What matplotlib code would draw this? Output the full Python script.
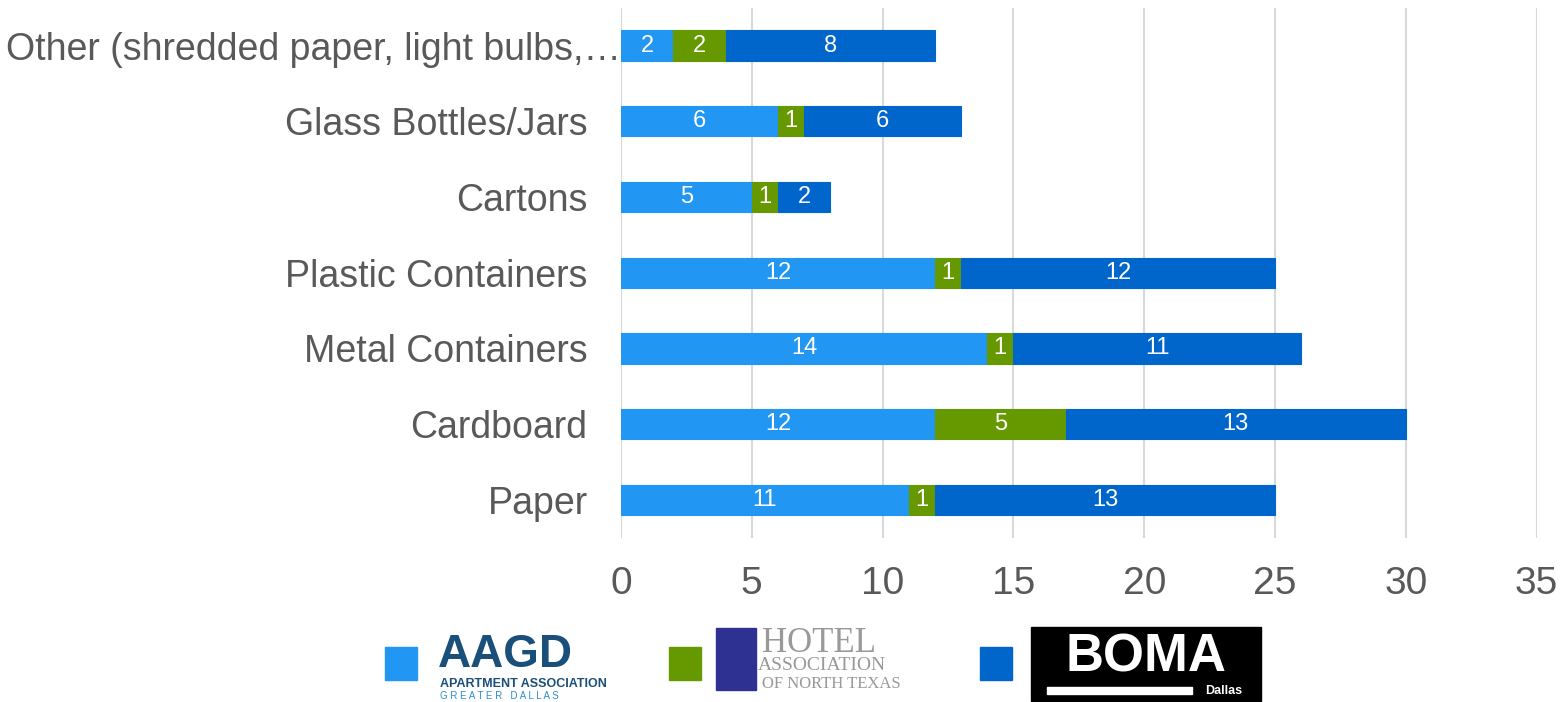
import numpy as np
import matplotlib.pyplot as plt
from matplotlib.patches import Rectangle
from matplotlib.transforms import ScaledTranslation

plt.rcParams['font.family'] = ['Liberation Sans', 'DejaVu Sans']

categories = ['Paper', 'Cardboard', 'Metal Containers', 'Plastic Containers',
              'Cartons', 'Glass Bottles/Jars', 'Other (shredded paper, light bulbs,\u2026']
aagd = [11, 12, 14, 12, 5, 6, 2]
hotel = [1, 5, 1, 1, 1, 1, 2]
boma = [13, 13, 11, 12, 2, 6, 8]
xticks = [0, 5, 10, 15, 20, 25, 30, 35]

colors = ['#2196F3', '#669900', '#0066CC']
grey = '#595959'

fig = plt.figure(figsize=(15.68, 7.02), dpi=100)
ax = fig.add_axes([0.396, 0.234, 0.584, 0.755])

y = np.arange(len(categories))
left = np.zeros(len(categories))
for vals, c in zip([aagd, hotel, boma], colors):
    bars = ax.barh(y, vals, left=left, height=0.4, color=c, edgecolor=c, linewidth=0.8, zorder=3)
    ax.bar_label(bars, labels=[str(v) for v in vals], label_type='center',
                 color='white', fontsize=17)
    left += np.array(vals)

ax.set_xlim(0, 35)
ax.set_ylim(-0.5, 6.5)
ax.set_xticks(xticks)
ax.set_yticks(y)
ax.set_yticklabels(categories)
ax.tick_params(axis='x', length=0, colors=grey, labelsize=28, pad=20)
ax.tick_params(axis='y', length=0, colors=grey, labelsize=27, pad=24)
ax.grid(axis='x', color='#d9d9d9', linewidth=1.5, zorder=0)
for s in ax.spines.values():
    s.set_visible(False)

# the long label runs right up to the axis, like the truncated one in the original
lab = ax.get_yticklabels()[-1]
lab.set_transform(lab.get_transform() + ScaledTranslation(0.33, 0, fig.dpi_scale_trans))

# legend squares and logo text
W, H = 1568, 702
def fx(px):
    return px / W
def fy(py):
    return 1 - py / H

for x0, c in zip([385, 669, 980], colors):
    fig.patches.append(Rectangle((fx(x0), fy(680)), 32 / W, 33 / H,
                                 transform=fig.transFigure, color=c))

fig.text(fx(438), fy(655), 'AAGD', fontsize=33, fontweight='bold', color='#1a4f7a',
         va='center', ha='left')
fig.text(fx(440), fy(684), 'APARTMENT ASSOCIATION', fontsize=9, fontweight='bold',
         color='#1a4f7a', va='center', ha='left')
fig.text(fx(440), fy(696), 'G R E A T E R   D A L L A S', fontsize=7,
         color='#2a8fd0', va='center', ha='left')

fig.patches.append(Rectangle((fx(716), fy(690)), 40 / W, 62 / H,
                             transform=fig.transFigure, color='#2e3192'))
fig.text(fx(762), fy(643), 'HOTEL', fontsize=25, family='Liberation Serif',
         color='#999999', va='center', ha='left')
fig.text(fx(758), fy(666), 'ASSOCIATION', fontsize=14, family='Liberation Serif',
         color='#999999', va='center', ha='left')
fig.text(fx(762), fy(684), 'OF NORTH TEXAS', fontsize=12, family='Liberation Serif',
         color='#999999', va='center', ha='left')

fig.patches.append(Rectangle((fx(1031), fy(701)), 230 / W, 74 / H,
                             transform=fig.transFigure, color='black'))
fig.text(fx(1146), fy(657), 'BOMA', fontsize=38, fontweight='bold', color='white',
         va='center', ha='center')
fig.patches.append(Rectangle((fx(1047), fy(694)), 145 / W, 7 / H,
                             transform=fig.transFigure, color='white'))
fig.text(fx(1224), fy(691), 'Dallas', fontsize=9, fontweight='bold', color='white',
         va='center', ha='center')

fig.savefig('out.png', dpi=100)
